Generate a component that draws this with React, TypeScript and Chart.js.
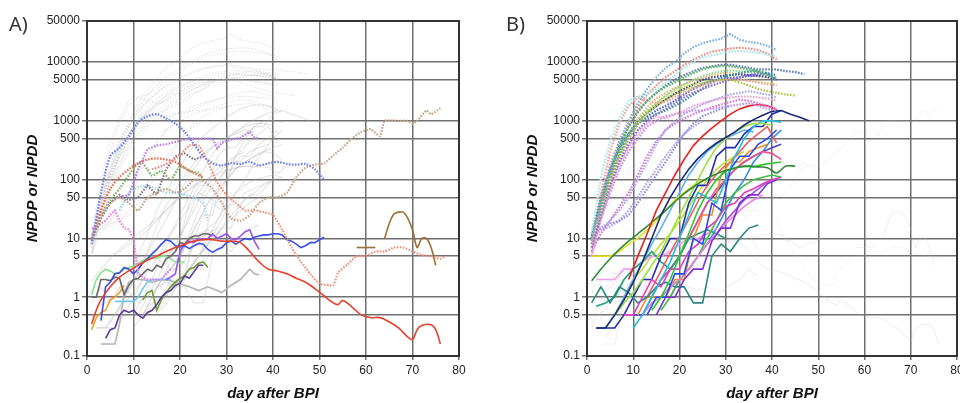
import React, { useEffect, useRef } from 'react';
import { Chart, registerables } from 'chart.js';
Chart.register(...registerables);

type Pair = [number, number];

// ---------- axes ----------
const Y_TICKS = [0.1, 0.5, 1, 5, 10, 50, 100, 500, 1000, 5000, 10000, 50000];
const X_MIN = 0;
const X_MAX = 80;
const X_STEP = 10;
const X_TITLE = 'day after BPI';
const Y_TITLE = 'NPDP or NPDD';

// ---------- panel A highlighted series: [day, value] ----------
const A_BLUE_DOT: Pair[] = [[1, 8], [3, 60], [5, 250], [7, 350], [9, 550], [11, 950], [13, 1200], [15, 1300], [17, 1100], [19, 900], [21, 650], [23, 400], [25, 250], [27, 190], [29, 175], [31, 190], [33, 185], [35, 200], [37, 175], [39, 190], [41, 200], [43, 185], [45, 180], [47, 185], [49, 150], [51, 100]];
const A_VIOLET_DOT: Pair[] = [[7, 50], [9, 55], [11, 150], [13, 330], [15, 380], [17, 400], [19, 440], [21, 480], [23, 500], [25, 500], [27, 500], [28, 340], [29, 420], [31, 480], [33, 520], [35, 650], [36, 520], [37, 500]];
const A_RED_DOT: Pair[] = [[1, 10], [3, 30], [5, 70], [7, 110], [9, 150], [11, 190], [13, 220], [15, 230], [17, 220], [19, 200], [21, 160], [23, 130], [25, 110]];
const A_SALMON_DOT: Pair[] = [[14, 150], [16, 170], [18, 200], [20, 260], [22, 380], [24, 380], [26, 200], [28, 90], [30, 55], [32, 40], [34, 30], [36, 30], [38, 28], [40, 25], [42, 14], [44, 7], [46, 4], [48, 2.5], [50, 1.7], [52, 1.6], [53, 1.6], [54, 2.6], [56, 3.6], [58, 5], [60, 5], [62, 6], [64, 6], [66, 7], [68, 7], [70, 6], [72, 5.2], [74, 5], [76, 4.5], [77, 5]];
const A_TAN_DOT: Pair[] = [[1, 10], [3, 25], [5, 40], [7, 50], [9, 40], [11, 30], [13, 50], [15, 60], [17, 70], [19, 60], [21, 70], [23, 100], [25, 95], [27, 70], [29, 40], [31, 22], [33, 20], [35, 25], [37, 40], [39, 50], [41, 50], [43, 60], [45, 110], [47, 160], [49, 180], [51, 190], [53, 260], [55, 350], [57, 500], [59, 650], [61, 720], [63, 550], [64, 1000], [67, 1000], [69, 1000], [70, 900], [71, 1000], [73, 1500], [74, 1300], [76, 1650]];
const A_GREEN_DOT: Pair[] = [[1, 10], [3, 25], [5, 45], [7, 70], [9, 120], [11, 190], [12, 190], [13, 150], [14, 117], [16, 140], [18, 100], [20, 170], [22, 140], [24, 130], [25, 100]];
const A_GREY_DOT: Pair[] = [[1, 9], [3, 22], [5, 40], [7, 55], [9, 45], [11, 50], [13, 80], [15, 55], [17, 150], [19, 250], [21, 280], [23, 220], [25, 250]];
const A_CYAN_DOT: Pair[] = [[7, 30], [9, 60], [11, 75], [13, 80], [15, 70], [17, 60], [19, 60], [21, 55], [23, 50], [25, 40], [26, 20]];
const A_PINK_DOT: Pair[] = [[1, 15], [2, 15], [3, 18], [4, 20], [5, 25], [6, 30], [7, 20], [8, 15], [9, 14], [10, 10], [11, 2.5], [12, 2.2], [13, 2], [14, 2], [15, 2], [16, 2], [17, 2.5], [18, 3]];

const A_RED_SOLID: Pair[] = [[1, 0.35], [2, 0.6], [3, 0.9], [5, 1.5], [7, 2.2], [9, 2.8], [11, 3.5], [13, 4.3], [15, 5], [17, 6], [19, 7], [21, 8], [23, 9], [25, 9.5], [27, 9.5], [29, 9], [31, 9], [33, 8.5], [35, 6], [37, 4], [39, 3], [41, 2.8], [43, 2.5], [45, 2.1], [47, 1.8], [49, 1.4], [51, 1.05], [53, 0.8], [54, 0.75], [55, 0.88], [57, 0.68], [59, 0.5], [61, 0.45], [63, 0.45], [65, 0.38], [67, 0.3], [69, 0.21], [70, 0.19], [71, 0.28], [72, 0.33], [74, 0.34], [75, 0.28], [76, 0.16]];
const A_BLUE_SOLID: Pair[] = [[3, 0.4], [4, 1.5], [5, 1.8], [6, 2.5], [7, 2.6], [8, 3.2], [9, 3], [10, 2.5], [11, 3], [12, 3.8], [13, 4.5], [14, 5.5], [15, 6.5], [16, 8], [17, 9.5], [18, 9], [19, 7.5], [20, 7.2], [21, 7.5], [22, 6.7], [23, 7.5], [24, 8.2], [25, 8], [26, 6.5], [27, 5.8], [28, 6.5], [29, 7], [30, 8.5], [31, 9], [32, 8], [33, 9], [34, 10], [35, 9.5], [36, 10.5], [37, 11], [38, 11.5], [39, 11.5], [40, 12], [41, 12], [42, 11.5], [43, 9.5], [44, 9], [45, 8], [46, 7], [47, 7.5], [48, 8.5], [49, 8.5], [50, 9.5], [51, 10.5]];
const A_VIOLET_SOLID: Pair[] = [[17, 2], [18, 2.2], [19, 2.5], [20, 6], [21, 8], [22, 9], [23, 8.5], [24, 10], [25, 9.5], [26, 10], [27, 12], [28, 10], [29, 11], [30, 12], [31, 10], [32, 9.5], [33, 11], [34, 13], [35, 14], [36, 9], [37, 6.5]];
const A_DARKGREY_SOLID: Pair[] = [[1, 1], [2, 1], [3, 2], [4, 2], [5, 1.9], [6, 2.2], [7, 2.1], [8, 1.1], [9, 1.6], [10, 2], [11, 2.1], [12, 2.5], [13, 3], [14, 2.8], [15, 3.5], [16, 3.2], [17, 4.5], [18, 5], [19, 6], [20, 8.5], [21, 8], [22, 10], [23, 11], [24, 11], [25, 12], [26, 12], [27, 11]];
const A_LIGHTGREEN_SOLID: Pair[] = [[1, 1.1], [2, 2], [3, 2.6], [4, 3], [5, 2.8], [6, 2.5], [7, 2.6], [8, 3], [9, 3.2], [10, 3.4], [11, 3.8], [12, 4.2], [13, 4.5], [14, 4.7], [15, 4.6], [16, 5], [17, 5], [18, 4.5], [19, 4], [20, 3.8], [21, 4]];
const A_DARKPURPLE_SOLID: Pair[] = [[4, 0.2], [5, 0.28], [6, 0.3], [7, 0.5], [8, 0.6], [9, 0.55], [10, 0.6], [11, 0.5], [12, 0.44], [13, 0.55], [14, 0.6], [15, 0.75], [16, 1], [17, 1.2], [18, 1.3], [19, 1.6], [20, 1.7], [21, 2.3], [22, 2.1], [23, 2.7], [24, 3.5], [25, 3.5]];
const A_OLIVE_SOLID: Pair[] = [[12, 0.9], [13, 1.2], [14, 1.3], [15, 0.6], [16, 0.9], [17, 1.2], [18, 1.5], [19, 1.8], [20, 2.1], [21, 2.3], [22, 3], [23, 3.2], [24, 3.8], [25, 4], [26, 3.2]];
const A_ORANGE_SOLID: Pair[] = [[1, 0.28], [2, 0.45], [3, 0.55], [4, 0.6], [5, 0.9], [6, 1], [7, 1.2], [8, 1.6]];
const A_CYAN_SOLID: Pair[] = [[6, 0.85], [7, 0.85], [8, 0.85], [9, 0.85], [10, 0.85], [11, 1], [12, 1.4], [13, 1.8], [14, 2], [15, 2], [16, 2], [17, 2], [18, 2]];
const A_GREY_SOLID: Pair[] = [[3, 0.16], [4, 0.16], [5, 0.16], [6, 0.16], [7, 0.35], [8, 1.2], [9, 1.8], [10, 2], [12, 2], [14, 1.8], [16, 2], [18, 1.9], [20, 1.7], [22, 1.5], [24, 1.3], [26, 1.5], [28, 1.3], [29, 1.2], [31, 1.6], [33, 2], [35, 3], [36, 2.5], [37, 2.4]];
const A_BROWN_FLAT: Pair[] = [[58, 7], [62, 7]];
const A_BROWN_SOLID: Pair[] = [[64, 10], [65, 18], [66, 26], [67, 28], [68, 28], [69, 22], [70, 14], [71, 7], [72, 10], [73, 10], [74, 7], [75, 3.5]];

// ---------- panel B series: values every 2 days from a start day ----------
const B_STEP = 2;
const B_U1 = [9, 40, 150, 450, 1000, 2000, 3500, 5500, 8000, 10000, 14000, 18000, 21000, 23000, 25000, 30000, 24000, 22000, 21000, 19000, 16000];
const B_U2 = [12, 110, 450, 1100, 2200, 2600, 2800, 3500, 4500, 6000, 8000, 10000, 12000, 13000, 14000, 15000, 15500, 15000, 14500, 13500, 12500];
const B_U3 = [8, 45, 180, 450, 900, 1700, 2800, 4000, 5500, 7000, 9000, 11000, 13000, 15000, 16000, 17000, 17500, 17000, 16000, 14000, 11000];
const B_U4 = [10, 35, 130, 350, 800, 1500, 2200, 3000, 3800, 4500, 5500, 6500, 7500, 8200, 8500, 8500, 8000, 7500, 7000, 6000, 5200];
const B_U5 = [11, 40, 140, 380, 800, 1400, 2200, 3000, 4000, 5000, 6000, 7000, 8000, 8500, 9000, 9000, 8500, 8000, 7500, 7500, 7500, 7000, 6800, 6200];
const B_U6 = [9, 30, 100, 250, 500, 900, 1300, 1800, 2300, 2800, 3300, 3800, 4300, 4800, 5000, 5000, 4500, 4000, 3500, 3200, 3000, 2800, 2700];
const B_U7 = [7, 25, 80, 200, 400, 700, 1000, 1300, 1600, 2000, 2500, 3000, 3500, 4000, 4500, 5000, 5500, 6000, 6500, 6000, 5000];
const B_U8 = [5, 20, 70, 180, 350, 600, 900, 1200, 1100, 1300, 1500, 1800, 2000, 2200, 2400, 2500, 2600, 2600, 2500, 2400, 2200];
const B_U9 = [6, 22, 60, 150, 300, 500, 800, 1000, 1200, 1300, 1400, 1500, 1500, 1600, 1700, 1800, 1900, 2000, 1800, 1600, 1500];
const B_U10 = [5, 60, 300, 900, 1800, 2500, 2200, 2000, 2100, 2500, 3000, 3500, 4000, 4500, 5000, 5200, 5000, 4800, 4500, 4200, 4000];
const B_U11 = [8, 30, 100, 250, 500, 900, 1200, 1500, 1800, 2200, 2800, 3500, 4200, 4800, 5200, 5400, 5500, 5800, 6000, 6500, 5000];
const B_U12 = [10, 15, 20, 30, 50, 100, 200, 400, 700, 1000, 1300, 1600, 1900, 2200, 2500, 2800, 3000, 3200, 3000, 2800, 2500];
const B_U13 = [12, 50, 150, 350, 600, 900, 1100, 1300, 1500, 1800, 2200, 2800, 3500, 4500, 5500, 6000, 6500, 7000, 7000, 6500, 6000];
const B_U14 = [8, 35, 120, 300, 600, 1000, 1500, 2000, 2700, 3500, 4200, 5000, 5800, 6500, 7000, 7200, 7000, 6800, 6500, 6000, 5500];
const B_U15 = [6, 12, 20, 35, 60, 120, 250, 450, 700, 900, 1100, 1300, 1500, 1700, 1900, 2100, 2300, 2200, 2000, 1800, 1600];
const B_U16 = [5, 25, 90, 250, 500, 900, 1400, 2000, 2600, 3200, 3800, 4200, 4500, 4800, 5000, 5200, 5000, 4800, 4600, 4400, 4200];
const B_U17 = [12, 15, 18, 20, 25, 40, 70, 120, 200, 350, 600, 900, 1200, 1400, 1600, 1800];
const B_U18 = [10, 14, 16, 20, 30, 50, 90, 150, 250, 400, 600, 800, 1000];
const B_U19 = [10, 40, 120, 300, 600, 1000, 1400, 1800, 2300, 2900, 3500, 4200, 5000, 5500, 5800, 6000, 6200, 6000, 5800, 5600, 5000];
const B_U20 = [7, 30, 100, 280, 600, 1100, 1700, 2400, 3000, 3600, 4200, 4800, 5400, 6000, 6500, 6500, 6300, 6000, 5800, 5500, 5200];

const B_L1 = [2, 5, 12, 30, 60, 120, 220, 380, 550, 750, 1000, 1300, 1600, 1800, 1900, 1800, 1550];
const B_L2 = [0.3, 0.3, 0.5, 0.9, 1.8, 4, 10, 25, 50, 90, 150, 230, 320, 420, 520, 650, 850, 1050, 1250, 1450, 1500, 1300, 1150, 1000];
const B_L3 = [1.9, 3, 4.5, 6.5, 9, 12, 16, 22, 30, 42, 58, 75, 95, 115, 135, 150, 165, 170, 165, 160, 130, 170, 170];
const B_L4 = [0.6, 1, 2, 5, 12, 30, 60, 100, 140, 160, 170, 165, 180, 190, 200];
const B_L5 = [0.5, 0.8, 1.2, 2, 3.5, 6, 12, 25, 50, 100, 200, 350, 500, 650, 800, 900, 900, 850];
const B_L6 = [0.3, 0.5, 1, 2, 4, 10, 25, 60, 50, 40, 100, 250, 500, 800, 1000, 1000, 950];
const B_L7 = [0.5, 1, 1, 2.5, 2.5, 10, 8, 40, 30, 150, 250, 250, 400, 500, 700];
const B_L8 = [0.5, 0.5, 1, 2, 1.5, 3, 3, 6, 8, 15, 20, 35, 40, 60, 70, 85, 100, 110];
const B_L9 = [0.5, 1, 1, 2, 3, 3, 9, 15, 15, 40, 55, 55, 85, 100];
const B_L10 = [0.5, 0.8, 1, 1.5, 2, 3, 5, 8, 12, 18, 25, 35, 45, 55];
const B_L11 = [0.8, 1.5, 0.8, 1.5, 1.2, 0.8, 1, 1.5, 1.8, 1.5, 1.5, 0.8, 0.8, 5, 8, 6, 10, 15, 17];
const B_L12 = [0.5, 1, 1, 1, 2, 2, 10, 25, 25, 120, 200, 200, 300, 350, 400];
const B_L13 = [1, 2, 4, 8, 15, 30, 60, 100, 150, 200, 300, 450, 600, 800, 420];
const B_L14 = [5, 5, 5, 6, 8, 10, 14, 20, 30, 45, 60, 80, 100];
const B_L15 = [0.6, 1, 2, 3, 5, 10, 20, 40, 60, 80, 100, 110, 120, 110];
const B_L16 = [0.3, 0.3, 0.3, 0.5, 1, 2, 2, 5, 10, 10, 40, 80, 80, 250, 350, 350, 600, 800, 800, 1300, 1500];
const B_L17 = [1, 2, 3, 5, 8, 12, 20, 30, 45, 60, 80, 100];
const B_L18 = [0.3, 0.5, 1, 2, 4, 8, 15, 30, 60, 120, 200, 300, 400, 500, 600, 700, 650];
const B_L19 = [0.7, 0.8, 1, 2, 3, 4, 6, 4, 3, 5, 10, 12, 14, 12, 10];
const B_L20 = [1, 2, 3, 5, 10, 20, 40, 70, 100, 150, 200, 250, 300, 280, 220];
const B_L21 = [0.5, 0.5, 1, 2, 3, 5, 10, 20, 40, 60, 100, 150, 200, 250, 300, 350, 400];
const B_L22 = [2, 2, 2, 3, 3, 4, 5, 5, 6, 8, 10, 10, 12, 15];
const B_L23 = [1, 2, 3, 5, 8, 12, 20, 35, 60, 100, 150, 200, 250, 300];
const B_L24 = [1, 1.5, 2, 3, 5, 8, 15, 30, 60, 100, 200, 300, 500, 700];

type Series = { pts: { x: number; y: number }[]; color: string; dotted: boolean; tension?: number };

const fromPairs = (p: Pair[]) => p.map(([x, y]) => ({ x, y }));
const fromSteps = (start: number, vals: number[]) => vals.map((y, i) => ({ x: start + i * B_STEP, y }));

const A_SERIES: Series[] = [
  { pts: fromPairs(A_BLUE_DOT), color: '#6f80ea', dotted: true, tension: 0.3 },
  { pts: fromPairs(A_VIOLET_DOT), color: '#b080ee', dotted: true },
  { pts: fromPairs(A_SALMON_DOT), color: '#f0907a', dotted: true, tension: 0.2 },
  { pts: fromPairs(A_RED_DOT), color: '#f26a4e', dotted: true, tension: 0.3 },
  { pts: fromPairs(A_TAN_DOT), color: '#c6a488', dotted: true, tension: 0.2 },
  { pts: fromPairs(A_GREEN_DOT), color: '#82b468', dotted: true, tension: 0.2 },
  { pts: fromPairs(A_GREY_DOT), color: '#85788f', dotted: true },
  { pts: fromPairs(A_CYAN_DOT), color: '#a4d8f0', dotted: true },
  { pts: fromPairs(A_PINK_DOT), color: '#e87ee8', dotted: true },
  { pts: fromPairs(A_RED_SOLID), color: '#e8402c', dotted: false, tension: 0.4 },
  { pts: fromPairs(A_BLUE_SOLID), color: '#3a4ee6', dotted: false },
  { pts: fromPairs(A_VIOLET_SOLID), color: '#9a52f0', dotted: false },
  { pts: fromPairs(A_DARKGREY_SOLID), color: '#6a6a6a', dotted: false },
  { pts: fromPairs(A_LIGHTGREEN_SOLID), color: '#86e486', dotted: false },
  { pts: fromPairs(A_DARKPURPLE_SOLID), color: '#5a3a96', dotted: false },
  { pts: fromPairs(A_OLIVE_SOLID), color: '#6a9a30', dotted: false },
  { pts: fromPairs(A_ORANGE_SOLID), color: '#f0a020', dotted: false },
  { pts: fromPairs(A_CYAN_SOLID), color: '#70c8f0', dotted: false },
  { pts: fromPairs(A_GREY_SOLID), color: '#b4b4b4', dotted: false },
  { pts: fromPairs(A_BROWN_FLAT), color: '#9a7030', dotted: false },
  { pts: fromPairs(A_BROWN_SOLID), color: '#9a7030', dotted: false, tension: 0.3 },
];

const B_SERIES: Series[] = [
  { pts: fromSteps(1, B_U1), color: '#7ab0e0', dotted: true },
  { pts: fromSteps(1, B_U2), color: '#a6e8e8', dotted: true },
  { pts: fromSteps(1, B_U3), color: '#f08a80', dotted: true },
  { pts: fromSteps(1, B_U4), color: '#5cb85c', dotted: true },
  { pts: fromSteps(1, B_U5), color: '#5a7ab8', dotted: true },
  { pts: fromSteps(1, B_U6), color: '#b0c048', dotted: true },
  { pts: fromSteps(1, B_U7), color: '#8a6ad8', dotted: true },
  { pts: fromSteps(1, B_U8), color: '#f0a0d0', dotted: true },
  { pts: fromSteps(1, B_U9), color: '#c090f0', dotted: true },
  { pts: fromSteps(1, B_U10), color: '#f4a0a0', dotted: true },
  { pts: fromSteps(1, B_U11), color: '#4a6ae0', dotted: true },
  { pts: fromSteps(1, B_U12), color: '#a8a8ec', dotted: true },
  { pts: fromSteps(1, B_U13), color: '#3a9a9a', dotted: true },
  { pts: fromSteps(1, B_U14), color: '#90d890', dotted: true },
  { pts: fromSteps(1, B_U15), color: '#d878d8', dotted: true },
  { pts: fromSteps(1, B_U16), color: '#d0e060', dotted: true },
  { pts: fromSteps(1, B_U17), color: '#9090e0', dotted: true },
  { pts: fromSteps(1, B_U18), color: '#b0a0f0', dotted: true },
  { pts: fromSteps(1, B_U19), color: '#404c88', dotted: true },
  { pts: fromSteps(1, B_U20), color: '#f0b878', dotted: true },
  { pts: fromSteps(9, B_L1), color: '#e82020', dotted: false },
  { pts: fromSteps(2, B_L2), color: '#1a2a78', dotted: false },
  { pts: fromSteps(1, B_L3), color: '#2e8b3a', dotted: false, tension: 0.3 },
  { pts: fromSteps(14, B_L4), color: '#2ec82e', dotted: false },
  { pts: fromSteps(6, B_L5), color: '#9be040', dotted: false },
  { pts: fromSteps(10, B_L6), color: '#20c0e0', dotted: false },
  { pts: fromSteps(13, B_L7), color: '#2848f0', dotted: false },
  { pts: fromSteps(8, B_L8), color: '#e040c0', dotted: false },
  { pts: fromSteps(15, B_L9), color: '#8030d0', dotted: false },
  { pts: fromSteps(12, B_L10), color: '#f080e0', dotted: false },
  { pts: fromSteps(1, B_L11), color: '#2a8a80', dotted: false },
  { pts: fromSteps(11, B_L12), color: '#f09020', dotted: false },
  { pts: fromSteps(13, B_L13), color: '#f06060', dotted: false },
  { pts: fromSteps(1, B_L14), color: '#e8e020', dotted: false },
  { pts: fromSteps(16, B_L15), color: '#40c040', dotted: false },
  { pts: fromSteps(2, B_L16), color: '#2030b0', dotted: false },
  { pts: fromSteps(18, B_L17), color: '#a050f0', dotted: false },
  { pts: fromSteps(4, B_L18), color: '#60b0f0', dotted: false },
  { pts: fromSteps(2, B_L19), color: '#20a080', dotted: false },
  { pts: fromSteps(14, B_L20), color: '#f05090', dotted: false },
  { pts: fromSteps(10, B_L21), color: '#5040c0', dotted: false },
  { pts: fromSteps(2, B_L22), color: '#f0a0f0', dotted: false },
  { pts: fromSteps(8, B_L23), color: '#c0e030', dotted: false },
  { pts: fromSteps(16, B_L24), color: '#3090e0', dotted: false },
];

const FONT = "'Liberation Sans', Arial, sans-serif";

const framePlugin = {
  id: 'frame',
  afterDraw(chart: any) {
    const { ctx, chartArea } = chart;
    const { left, top, right, bottom } = chartArea;
    ctx.save();
    ctx.strokeStyle = '#333';
    ctx.lineWidth = 2;
    ctx.strokeRect(left, top, right - left, bottom - top);
    ctx.restore();
  },
};

function Panel(props: { fg: Series[]; bg: Series[]; bgColor: string; left: number; width: number; padLeft: number; padRight: number }) {
  const ref = useRef<HTMLCanvasElement | null>(null);
  useEffect(() => {
    if (!ref.current) return;
    const fgSets = props.fg.map((s) => ({
      data: s.pts,
      borderColor: s.color,
      borderWidth: s.dotted ? 2.2 : 1.6,
      borderDash: s.dotted ? [1.6, 1.4] : [],
      tension: s.tension ?? 0,
      pointRadius: 0,
      fill: false,
      order: 0,
    }));
    const bgSets = props.bg.map((s) => ({
      data: s.pts,
      borderColor: props.bgColor,
      borderWidth: 1.2,
      borderDash: s.dotted ? [1.6, 1.4] : [],
      tension: s.tension ?? 0,
      pointRadius: 0,
      fill: false,
      order: 1,
    }));
    const chart = new Chart(ref.current, {
      type: 'line',
      data: { datasets: [...fgSets, ...bgSets] as any },
      options: {
        animation: false,
        responsive: false,
        layout: { padding: { left: props.padLeft, top: 21, right: props.padRight, bottom: 0 } },
        plugins: { legend: { display: false }, tooltip: { enabled: false } },
        scales: {
          x: {
            type: 'linear',
            min: X_MIN,
            max: X_MAX,
            ticks: { stepSize: X_STEP, color: '#222', font: { family: FONT, size: 12 }, padding: 3, maxRotation: 0 },
            grid: { color: '#707070', lineWidth: 1.5, tickLength: 4 },
            border: { color: '#333', width: 2 },
            title: {
              display: true,
              text: X_TITLE,
              color: '#111',
              font: { family: FONT, size: 15, weight: 'bold', style: 'italic' },
              padding: { top: 0, bottom: 0 },
            },
            afterFit: (s: any) => {
              s.height = 47;
            },
          },
          y: {
            type: 'logarithmic',
            min: Y_TICKS[0],
            max: Y_TICKS[Y_TICKS.length - 1],
            afterBuildTicks: (s: any) => {
              s.ticks = Y_TICKS.map((v) => ({ value: v }));
            },
            ticks: {
              autoSkip: false,
              color: '#222',
              font: { family: FONT, size: 12 },
              padding: 2,
              callback: (v: any) => String(v),
            },
            grid: { color: '#707070', lineWidth: 1.5, tickLength: 5 },
            border: { color: '#333', width: 2 },
            title: {
              display: true,
              text: Y_TITLE,
              color: '#111',
              font: { family: FONT, size: 15, weight: 'bold', style: 'italic' },
              padding: { top: 24, bottom: 0 },
            },
            afterFit: (s: any) => {
              s.width = 87;
            },
          },
        },
      } as any,
      plugins: [framePlugin],
    });
    return () => chart.destroy();
  }, []);
  return (
    <canvas
      ref={ref}
      width={props.width}
      height={403}
      style={{ position: 'absolute', left: props.left, top: 0, width: props.width, height: 403 }}
    />
  );
}

const labelStyle: React.CSSProperties = {
  position: 'absolute',
  top: 14,
  fontFamily: "'Noto Sans', sans-serif",
  fontSize: 20,
  lineHeight: '20px',
  color: '#333',
};

export default function App() {
  return (
    <div style={{ position: 'fixed', left: 0, top: 0, width: 960, height: 403, overflow: 'hidden', background: '#fff' }}>
      <Panel fg={A_SERIES} bg={B_SERIES} bgColor="rgba(175,175,175,0.3)" left={0} width={480} padLeft={0} padRight={21} />
      <Panel fg={B_SERIES} bg={A_SERIES} bgColor="rgba(200,200,200,0.25)" left={480} width={500} padLeft={20} padRight={23} />
      <span style={{ ...labelStyle, left: 9 }}>A)</span>
      <span style={{ ...labelStyle, left: 506 }}>B)</span>
    </div>
  );
}
